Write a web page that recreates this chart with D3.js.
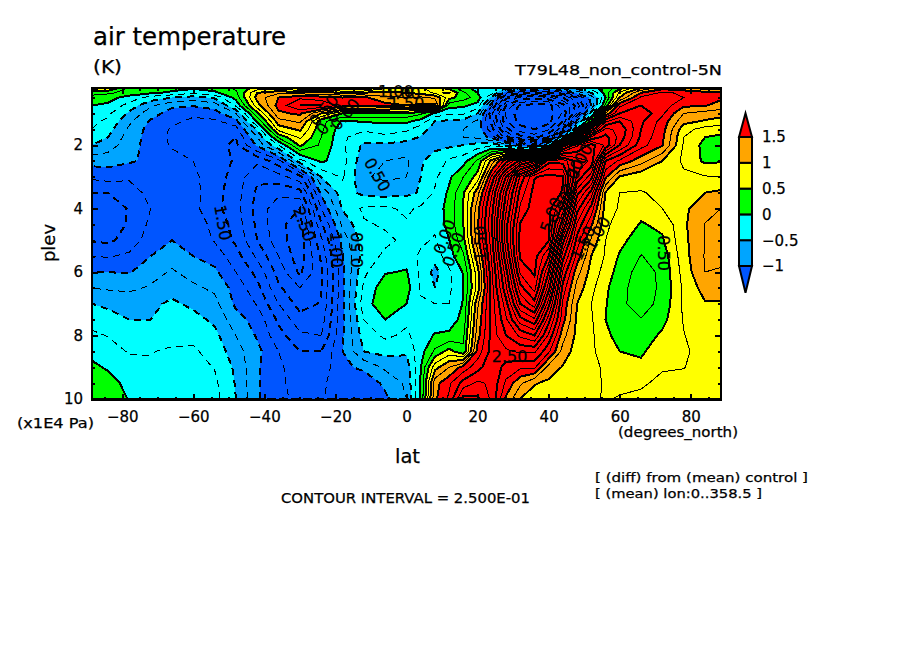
<!DOCTYPE html>
<html>
<head>
<meta charset="utf-8">
<title>air temperature</title>
<script src="https://cdn.jsdelivr.net/npm/d3@7"></script>
<style>
  html, body { margin: 0; background: #fff; }
  text { font-family: "DejaVu Sans", sans-serif; fill: #000; stroke: #000; stroke-width: 0.25px; }
  .fill, .line { shape-rendering: crispEdges; }
  .axis path { display: none; }
  .axis line { stroke: #000; stroke-width: 2; shape-rendering: crispEdges; }
  .axis text { font-size: 15px; }
</style>
</head>
<body>
<div id="chart"></div>
<script>
var lats = [-88.5,-84,-78,-72,-66,-60,-54,-48,-42,-36,-30,-24,-18,-12,-6,0,4,8,12,16,20,24,28,32,36,40,44,48,52,56,60,66,72,78,84,88.5];
var plevs = [0.2,0.35,0.5,0.75,1,1.25,1.5,1.75,2,2.5,3,3.5,4,4.5,5,5.5,6,6.5,7,7.5,8,8.5,9,9.5,10];

// one list per latitude, top of the plot to the bottom
var temps = [
  [.9,.35,.15,0,-.15,-.2,-.25,-.3,-.5,-.9,-1.2,-1.5,-1.65,-1.7,-1.52,-1.25,-1,-.75,-.5,-.35,-.2,-.07,.05,.15,.25],
  [.8,.3,.1,-.05,-.2,-.3,-.4,-.5,-.62,-.9,-1.15,-1.5,-1.7,-1.75,-1.55,-1.27,-1,-.78,-.55,-.4,-.26,-.15,-.03,.1,.2],
  [.2,.15,-.1,-.35,-.55,-.7,-.8,-.87,-.9,-.97,-1.2,-1.4,-1.47,-1.45,-1.4,-1.2,-1.02,-.8,-.6,-.5,-.37,-.27,-.17,-.08,-.02],
  [.15,.05,-.35,-.7,-.9,-1.03,-1.1,-1.1,-1.1,-1.05,-1.1,-1.15,-1.25,-1.2,-1.12,-1,-.85,-.72,-.55,-.5,-.38,-.26,-.22,-.15,-.1],
  [.1,-.05,-.5,-.95,-1.1,-1.2,-1.28,-1.3,-1.28,-1.15,-1.12,-1.12,-1.12,-1.08,-1,-.85,-.72,-.58,-.46,-.45,-.32,-.22,-.18,-.13,-.1],
  [.05,-.2,-.6,-.98,-1.2,-1.3,-1.35,-1.38,-1.36,-1.25,-1.2,-1.17,-1.18,-1.15,-1.1,-1,-.85,-.7,-.55,-.42,-.3,-.22,-.17,-.12,-.08],
  [.1,-.05,-.45,-.9,-1.1,-1.3,-1.45,-1.45,-1.42,-1.42,-1.38,-1.4,-1.42,-1.3,-1.27,-1.1,-.95,-.8,-.67,-.55,-.43,-.33,-.26,-.2,-.17],
  [.3,.2,.1,-.2,-.75,-1.1,-1.35,-1.5,-1.55,-1.52,-1.6,-1.65,-1.65,-1.62,-1.55,-1.4,-1.25,-1.1,-1.05,-.9,-.75,-.65,-.55,-.52,-.5],
  [.6,1,1.1,.9,.45,.05,-.45,-.75,-.95,-1.7,-1.95,-2.05,-2.1,-2.05,-2,-1.8,-1.58,-1.42,-1.27,-1.1,-1.03,-.93,-.97,-.97,-.97],
  [.6,1.2,1.5,1.6,1.45,1.15,.85,.3,-.25,-1.35,-1.85,-2.2,-2.4,-2.45,-2.4,-2.25,-2.1,-1.95,-1.75,-1.55,-1.4,-1.25,-1.2,-1.2,-1.2],
  [.4,1.1,1.7,2,1.55,1.3,1.05,.8,.55,-.35,-1.6,-2.1,-2.5,-2.6,-2.65,-2.65,-2.55,-2.25,-2.1,-1.9,-1.7,-1.5,-1.4,-1.35,-1.3],
  [.3,1.1,1.6,2,1,.35,.3,.25,.2,.05,-.5,-.95,-1.25,-1.55,-1.8,-1.95,-2.05,-2.02,-1.98,-1.88,-1.75,-1.5,-1.4,-1.3,-1.27],
  [.3,1,1.5,1.65,.5,-.03,-.15,-.2,-.2,-.15,-.22,-.35,-.48,-.7,-.9,-1.02,-1.05,-1.05,-1.05,-1.05,-1.03,-1,-1.05,-1.1,-1.15],
  [.3,1,1.55,1.65,.5,.02,-.2,-.4,-.55,-.68,-.72,-.58,-.2,-.28,-.38,-.38,-.3,-.2,-.1,-.25,-.38,-.5,-.95,-1.15,-1.15],
  [.7,1.1,1.3,1.6,.45,.05,-.15,-.3,-.55,-.75,-.8,-.6,-.2,-.22,-.3,-.2,-.02,.15,.15,0,-.2,-.42,-.7,-.95,-1.05],
  [.9,1,1.25,1.5,.45,.05,-.2,-.4,-.6,-.8,-.75,-.55,-.3,-.22,-.2,-.1,.02,.1,0,-.2,-.3,-.45,-.65,-.7,-.75],
  [.8,.9,1.3,1.55,.3,-.1,-.4,-.52,-.55,-.52,-.5,-.48,-.2,-.18,-.2,-.3,-.3,-.28,-.22,-.15,-.12,-.1,0,.02,.02],
  [.6,.7,1.2,1.55,-.05,-.5,-.6,-.62,-.55,-.42,-.3,-.22,-.15,-.2,-.28,-.4,-.58,-.5,-.25,-.12,.02,.3,.9,1.4,1.45],
  [.4,.8,.6,.1,-.2,-.55,-.7,-.72,-.55,-.2,-.05,.05,.1,.1,-.01,-.1,-.3,-.3,-.25,-.12,.05,.6,1.25,1.7,1.8],
  [.1,.3,.35,.05,-.2,-.6,-.75,-.75,-.5,-.1,.25,.48,.52,.5,.42,.2,.02,0,.02,.08,.2,.3,1.6,2.1,2.6],
  [-.1,0,.15,-.1,-.5,-.8,-.85,-.8,-.4,.3,.6,1.15,1.4,1.45,1.4,1.15,.9,.85,1.2,1.3,1.4,1.6,1.9,2.3,2.55],
  [-.2,-.1,-.6,-1.2,-1.7,-1.6,-1.4,-1.1,-.3,1.1,1.8,2.2,2.4,2.5,2.4,2.3,2.2,2.15,2.1,2.1,2.1,2.1,2.2,2.2,2.2],
  [-.5,-1.2,-1.9,-2.5,-2.8,-2.7,-2.4,-1.9,-.6,1.9,3,3.5,3.7,3.9,3.9,3.7,3.4,3.2,2.9,2.7,2.5,2.2,1.9,1.7,1.45],
  [-.6,-1.4,-2.3,-3.05,-3.15,-3.1,-2.9,-2.4,-1.2,2.6,4.3,4.6,4.8,5.02,5.1,5.05,4.8,4.4,4,3.4,2.8,2.3,1.8,1.3,1],
  [-.7,-1.5,-2.4,-3.1,-3.2,-3.15,-3,-2.6,-1.5,3,4.98,5.1,5.15,5.15,5.15,5.1,5.05,4.85,4.4,3.7,3,2.3,1.8,1.02,.88],
  [-.8,-1.5,-2.3,-3.1,-3.15,-3.1,-2.8,-2.2,-.3,4.4,5.1,5.15,5.1,5.08,5.02,4.5,4,3.6,3.1,2.6,2.2,1.8,1.15,.95,.85],
  [-.6,-1.3,-2,-2.6,-2.7,-2.5,-2,-.5,2.5,4.4,5.02,4.98,4.4,3.8,3.1,2.6,2.2,1.9,1.7,1.6,1.35,1.15,.98,.88,.85],
  [-.4,-.9,-1.5,-1.9,-1.7,-.9,-.1,1.5,3.2,3.9,3.7,3.1,2.6,2.2,1.9,1.65,1.35,1.15,1,.95,.92,.88,.85,.83,.82],
  [-.1,-.5,-.9,-1,-.4,.5,1.8,2.8,3.6,3.7,3.1,2.4,1.9,1.55,1.2,1,.9,.82,.75,.78,.8,.8,.8,.8,.77],
  [.1,.1,0,.3,1.3,2.2,2.8,3.1,3.2,2,1.55,.98,.88,.8,.75,.72,.65,.55,.52,.5,.55,.62,.72,.73,.74],
  [.4,.8,1,1.7,2,2.5,2.7,2.65,2.5,1.7,.98,.75,.72,.65,.58,.47,.38,.33,.3,.33,.42,.5,.62,.72,.76],
  [1,1.5,1.8,2,2.2,2.05,2,1.95,1.85,1.35,.82,.74,.58,.48,.35,.24,.15,.12,.15,.26,.35,.46,.56,.72,.8],
  [1.4,1.8,2,1.9,1.8,1.65,1.6,1.55,1.52,1,.87,.78,.75,.55,.47,.35,.3,.3,.32,.42,.55,.65,.73,.8,.82],
  [1.3,1.7,1.75,1.55,1.25,1.08,.85,.75,.72,.7,.8,.9,.95,.95,.93,.9,.85,.8,.8,.77,.74,.7,.74,.85,.88],
  [1.1,1.6,1.7,1.52,1.15,.97,.65,.5,.42,.45,.77,1,1.15,1.26,1.25,1.27,1.25,1.1,.98,.9,.88,.87,.87,.9,.92],
  [1.1,1.6,1.55,1.4,1.1,.9,.6,.45,.38,.48,.75,1.05,1.25,1.35,1.38,1.32,1.22,1.1,.98,.92,.9,.9,.92,.93,.95]
];

var fillLevels = [-1,-0.5,0,0.5,1,1.5];
var fillColors = ['#0055ff','#00a5ff','#00ffff','#00ff00','#ffff00','#ffa500','#ff0000'];

var latTicks = [-80,-60,-40,-20,0,20,40,60,80];
var latMinor = d3.range(-85,90,5);
var plevTicks = [2,4,6,8,10];
var plevMinor = d3.range(0.5,10,0.5);
var legendLabels = [-1,-0.5,0,0.5,1,1.5];

var labelTexts = ['1.50','2.50','1.00','0.50','0.50','0.50','0.00','0.00','1.00','1.50','0.00','0.50','1.50','1.00','5.00','5.00','1.50','1.00','2.50','1.00','0.50','2.00'];
var labelLats = [-52,-29,-20,-13.5,-8.5,-23,-21,-17,-3,0,11,13.5,21,-1,41,44,50,54,29,49,72,47];
var labelPlevs = [4.45,4.5,5.3,5.3,2.95,0.92,1.2,1.05,0.35,0.72,4.9,5.3,5.1,0.4,4.2,4,5.1,4.8,8.7,2.5,5.4,3];
var labelAngles = [80,70,88,-90,60,-50,-50,-50,0,0,-70,-70,-90,0,-70,-70,-65,-60,0,-60,90,-70];

var width = 904, height = 654;
var plot = { left: 92, right: 721, top: 88, bottom: 400 };

var x = d3.scaleLinear().domain([-88.5,88.5]).range([plot.left,plot.right]);
var y = d3.scaleLinear().domain([0.2,10]).range([plot.top,plot.bottom - 1]);

// grid index -> data value, cell centres sit on i + 0.5 in d3.contours
var colToLat = d3.scaleLinear().domain(lats.map(function(d,i){ return i + 0.5; })).range(lats).clamp(true);
var rowToPlev = d3.scaleLinear().domain(plevs.map(function(d,i){ return i + 0.5; })).range(plevs).clamp(true);

var nx = lats.length, ny = plevs.length;
var flat = [];
plevs.forEach(function(p,j){
  lats.forEach(function(l,i){ flat.push(temps[i][j]); });
});

var path = d3.geoPath(d3.geoTransform({
  point: function(i,j){ this.stream.point(x(colToLat(i)), y(rowToPlev(j))); }
}));

function contourAt(levels){
  return d3.contours().size([nx,ny]).thresholds(levels)(flat);
}

var svg = d3.select('#chart').append('svg')
    .attr('width',width).attr('height',height)
    .style('display','block');

svg.append('defs').append('clipPath').attr('id','plot-clip').append('rect')
    .attr('x',plot.left).attr('y',plot.top)
    .attr('width',plot.right - plot.left).attr('height',plot.bottom - plot.top);

var inner = svg.append('g').attr('clip-path','url(#plot-clip)');

inner.append('rect').attr('class','fill')
    .attr('x',plot.left).attr('y',plot.top)
    .attr('width',plot.right - plot.left).attr('height',plot.bottom - plot.top)
    .attr('fill',fillColors[0]);

inner.selectAll('.band').data(contourAt(fillLevels)).enter().append('path')
    .attr('class','band fill')
    .attr('d',path)
    .attr('fill',function(d,i){ return fillColors[i + 1]; });

// contour lines every 0.25, thick on the colour steps, dashed below zero
var lineLevels = d3.range(-20,21).map(function(d){ return d * 0.25; });
inner.selectAll('.line').data(contourAt(lineLevels)).enter().append('path')
    .attr('class','line')
    .attr('d',path)
    .attr('fill','none')
    .attr('stroke','#000')
    .attr('stroke-width',function(d){ return d.value % 0.5 === 0 ? 2 : 1; })
    .attr('stroke-dasharray',function(d){ return d.value < 0 ? '7,5' : null; });

svg.selectAll('.clabel').data(labelTexts).enter().append('text')
    .attr('class','clabel')
    .attr('text-anchor','middle')
    .attr('dominant-baseline','middle')
    .attr('font-size',16)
    .attr('transform',function(d,i){
      return 'translate(' + x(labelLats[i]) + ',' + y(labelPlevs[i]) + ')rotate(' + labelAngles[i] + ')';
    })
    .text(function(d){ return d; });

// frame and ticks, inward on all four sides
function addAxis(axis,tx,ty,labels){
  var g = svg.append('g').attr('class','axis')
      .attr('transform','translate(' + tx + ',' + ty + ')')
      .call(axis);
  if (!labels) { g.selectAll('text').remove(); }
  return g;
}
var fmt = function(d){ return String(d).replace('-','\u2212'); };

addAxis(d3.axisBottom(x).tickValues(latMinor).tickSize(-3),0,plot.bottom,false);
addAxis(d3.axisTop(x).tickValues(latMinor).tickSize(-3),0,plot.top,false);
addAxis(d3.axisBottom(x).tickValues(latTicks).tickSize(-6).tickPadding(11).tickFormat(fmt),0,plot.bottom,true);
addAxis(d3.axisTop(x).tickValues(latTicks).tickSize(-6),0,plot.top,false);
addAxis(d3.axisLeft(y).tickValues(plevMinor).tickSize(-3),plot.left,0,false);
addAxis(d3.axisRight(y).tickValues(plevMinor).tickSize(-3),plot.right,0,false);
addAxis(d3.axisLeft(y).tickValues(plevTicks).tickSize(-6).tickPadding(9).tickFormat(fmt),plot.left,0,true);
addAxis(d3.axisRight(y).tickValues(plevTicks).tickSize(-6),plot.right,0,false);

svg.append('rect')
    .attr('x',plot.left).attr('y',plot.top)
    .attr('width',plot.right - plot.left).attr('height',plot.bottom - plot.top)
    .attr('fill','none').attr('stroke','#000').attr('stroke-width',2.5)
    .style('shape-rendering','crispEdges');

// colour key
var legendX = 739, legendW = 13;
var legendY = d3.scaleLinear().domain([-1,1.5]).range([266,137]);
var legendStep = 0.5;

var key = svg.append('g');
key.selectAll('rect').data(d3.range(-1,1.5,legendStep)).enter().append('rect')
    .attr('x',legendX).attr('width',legendW)
    .attr('y',function(d){ return legendY(d + legendStep); })
    .attr('height',function(d){ return legendY(d) - legendY(d + legendStep); })
    .attr('fill',function(d){ return fillColors[fillLevels.indexOf(d) + 1]; })
    .attr('stroke','#000').attr('stroke-width',2);

function keyTip(from,to,colour){
  var tip = d3.path();
  tip.moveTo(legendX,legendY(from));
  tip.lineTo(legendX + legendW,legendY(from));
  tip.lineTo(legendX + legendW / 2,legendY(to));
  tip.closePath();
  key.append('path').attr('d',tip.toString()).attr('fill',colour)
      .attr('stroke','#000').attr('stroke-width',2);
}
keyTip(1.5,1.96,fillColors[6]);
keyTip(-1,-1.52,fillColors[0]);

svg.append('g').attr('class','axis')
    .attr('transform','translate(' + (legendX + legendW) + ',0)')
    .call(d3.axisRight(legendY).tickValues(legendLabels).tickSize(0).tickPadding(10).tickFormat(fmt));

// text around the plot: string, x, baseline y, size, width
function note(str,tx,ty,size,len){
  return svg.append('text').attr('x',tx).attr('y',ty).attr('font-size',size)
      .attr('textLength',len).attr('lengthAdjust','spacingAndGlyphs').text(str);
}
note('air temperature',93,45,24,193);
note('(K)',93,73,17,29);
note('T79L48_non_control-5N',515,75,14,207);
note('(x1E4 Pa)',17,428,14,77);
note('(degrees_north)',618,437,14,120);
note('lat',395,463,20,25);
note('CONTOUR INTERVAL = 2.500E-01',281,503,14,249);
note('[ (diff) from (mean) control ]',595,482,13,213);
note('[ (mean) lon:0..358.5 ]',595,498,13,167);
svg.append('text').attr('transform','translate(55,243)rotate(-90)')
    .attr('text-anchor','middle').attr('font-size',18).text('plev');
</script>
</body>
</html>
